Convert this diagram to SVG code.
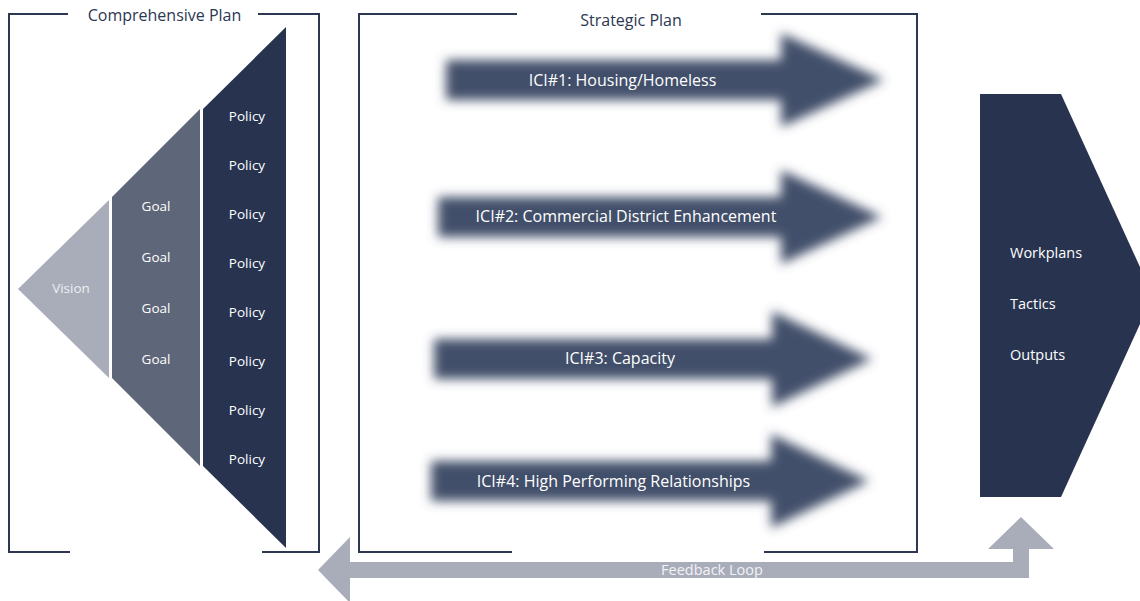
<svg xmlns="http://www.w3.org/2000/svg" width="1140" height="601" viewBox="0 0 1140 601">
<style>
.br{fill:none;stroke:#2d3752;stroke-width:2}
.t{font-family:"Open Sans","Liberation Sans",sans-serif;}
.title{font-size:16px;fill:#2d3752;text-anchor:middle}
.wl{font-size:13.5px;fill:#ffffff;text-anchor:middle}
.ici{font-size:16px;fill:#ffffff;text-anchor:middle}
.out{font-size:14.5px;fill:#ffffff}
.arr{fill:#434f6a;filter:url(#blur)}
</style>
<defs>
<filter id="blur" x="-10%" y="-40%" width="120%" height="180%"><feGaussianBlur stdDeviation="5.5"/></filter>
</defs>
<rect width="1140" height="601" fill="#ffffff"/>

<g id="comprehensive-plan">
<path class="br" d="M68,14 H9 V552 H70 M258,14 H319 V552 H262"/>
<text class="t title" x="164.5" y="21">Comprehensive Plan</text>
</g>

<g id="vision">
<polygon points="18,289 109,200 109,378" fill="#a9adba"/>
<text class="t wl" x="71" y="293" style="fill:#eceef2">Vision</text>
</g>

<g id="goals">
<polygon points="112,197 200,109 200,466 112,378" fill="#5e6679"/>
<text class="t wl" x="156" y="211">Goal</text>
<text class="t wl" x="156" y="262">Goal</text>
<text class="t wl" x="156" y="313">Goal</text>
<text class="t wl" x="156" y="364">Goal</text>
</g>

<g id="policies">
<polygon points="203,109 286,27 286,548 203,466" fill="#283350"/>
<text class="t wl" x="247" y="121">Policy</text>
<text class="t wl" x="247" y="170">Policy</text>
<text class="t wl" x="247" y="219">Policy</text>
<text class="t wl" x="247" y="268">Policy</text>
<text class="t wl" x="247" y="317">Policy</text>
<text class="t wl" x="247" y="366">Policy</text>
<text class="t wl" x="247" y="415">Policy</text>
<text class="t wl" x="247" y="464">Policy</text>
</g>

<g id="strategic-plan">
<path class="br" d="M517,14 H359 V552 H512 M761,14 H917 V552 H764"/>
<text class="t title" x="631" y="26">Strategic Plan</text>
</g>

<g id="ici1">
<polygon class="arr" points="446,60 781,60 781,33 884,80 781,127 781,100 446,100"/>
<text class="t ici" x="622.5" y="85.5">ICI#1: Housing/Homeless</text>
</g>
<g id="ici2">
<polygon class="arr" points="438,197 781,197 781,170 882,217 781,264 781,237 438,237"/>
<text class="t ici" x="626" y="221.5">ICI#2: Commercial District Enhancement</text>
</g>
<g id="ici3">
<polygon class="arr" points="434,339 772,339 772,311 872,359 772,407 772,379 434,379"/>
<text class="t ici" x="620" y="363.5">ICI#3: Capacity</text>
</g>
<g id="ici4">
<polygon class="arr" points="431,461 771,461 771,434 869,481 771,528 771,501 431,501"/>
<text class="t ici" x="613.5" y="486.5">ICI#4: High Performing Relationships</text>
</g>

<g id="outputs">
<polygon points="980,94 1061,94 1153,295.5 1061,497 980,497" fill="#283350"/>
<text class="t out" x="1010" y="258">Workplans</text>
<text class="t out" x="1010" y="309">Tactics</text>
<text class="t out" x="1010" y="360">Outputs</text>
</g>

<g id="connectors">
<polygon points="318,570 350,537 350,562 1013,562 1013,549 988,549 1021,517 1054,549 1029,549 1029,578 350,578 350,603" fill="#a9adba"/>
<text class="t" x="712" y="575" font-size="14.5" fill="#f2f3f6" text-anchor="middle">Feedback Loop</text>
</g>
</svg>
